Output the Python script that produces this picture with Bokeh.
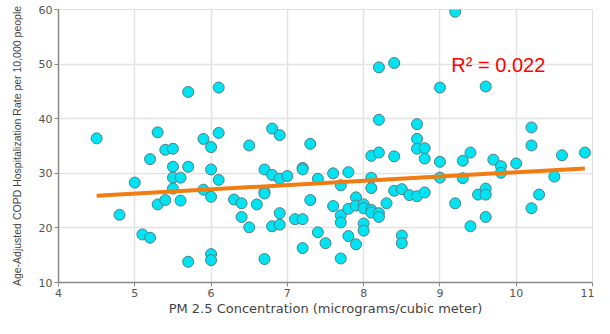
from bokeh.plotting import figure
from bokeh.models import Range1d, FixedTicker, ColumnDataSource
from bokeh.core.properties import value
from bokeh.embed import file_html
from bokeh.resources import INLINE

pm25 = [4.5, 4.8, 5.0, 5.1, 5.2, 5.2, 5.3, 5.3, 5.4, 5.4, 5.5, 5.5, 5.5, 5.5,
        5.6, 5.6, 5.7, 5.7, 5.7, 5.9, 5.9, 6.0, 6.0, 6.0, 6.0, 6.0, 6.1, 6.1,
        6.1, 6.3, 6.4, 6.4, 6.5, 6.5, 6.6, 6.7, 6.7, 6.7, 6.7, 6.8, 6.8, 6.8,
        6.9, 6.9, 6.9, 6.9, 7.0, 7.1, 7.2, 7.2, 7.2, 7.2, 7.3, 7.3, 7.4, 7.4,
        7.5, 7.6, 7.6, 7.7, 7.7, 7.7, 7.7, 7.8, 7.8, 7.8, 7.9, 7.9, 7.9, 8.0,
        8.0, 8.0, 8.0, 8.1, 8.1, 8.1, 8.1, 8.1, 8.2, 8.2, 8.2, 8.2, 8.2, 8.3,
        8.4, 8.4, 8.4, 8.5, 8.5, 8.5, 8.6, 8.7, 8.7, 8.7, 8.7, 8.8, 8.8, 8.8,
        9.0, 9.0, 9.0, 9.2, 9.2, 9.3, 9.3, 9.4, 9.4, 9.5, 9.6, 9.6, 9.6, 9.6,
        9.7, 9.8, 9.8, 10.0, 10.2, 10.2, 10.2, 10.3, 10.5, 10.6, 10.9]
copd_rate = [36.4, 22.4, 28.3, 18.8, 18.2, 32.6, 24.3, 37.5, 25.1, 34.3, 34.5, 31.2, 29.2, 27.2,
             25.0, 29.2, 31.2, 13.8, 44.9, 27.0, 36.3, 34.8, 30.7, 25.7, 15.2, 14.1, 45.7, 37.4,
             28.8, 25.2, 24.5, 22.0, 35.1, 20.1, 24.3, 30.7, 26.6, 26.3, 14.3, 38.2, 29.7, 20.3,
             37.0, 29.0, 22.7, 20.6, 29.5, 21.6, 31.0, 30.7, 21.6, 16.3, 35.4, 25.1, 29.0, 19.2,
             17.2, 30.0, 24.0, 27.8, 22.3, 21.0, 14.4, 30.2, 23.5, 18.5, 25.6, 24.1, 17.0, 24.3,
             23.6, 20.8, 19.5, 33.2, 29.2, 27.3, 23.3, 22.8, 49.4, 39.8, 33.8, 22.7, 22.0, 24.5,
             50.2, 33.1, 26.8, 27.1, 18.6, 17.2, 26.0, 39.0, 36.3, 34.5, 25.8, 34.6, 32.7, 26.5,
             45.7, 32.1, 29.2, 59.6, 24.5, 32.3, 29.1, 33.8, 20.3, 26.1, 45.9, 27.2, 26.1, 22.0,
             32.5, 31.3, 30.1, 31.8, 38.4, 35.1, 23.6, 26.1, 29.4, 33.3, 33.8]

trend_x = [4.5, 10.9]
trend_y = [25.9, 30.9]

x_ticks = [4, 5, 6, 7, 8, 9, 10, 11]
y_ticks = [10, 20, 30, 40, 50, 60]
r2_label = "R\u00b2 = 0.022"

p = figure(width=594, height=318, output_backend="svg", toolbar_location=None,
           x_range=Range1d(4, 11), y_range=Range1d(10, 60),
           min_border_left=58, min_border_right=2, min_border_top=9, min_border_bottom=0)

p.outline_line_color = "#e0e0e0"
p.background_fill_color = "white"

for ax in (p.xaxis[0], p.yaxis[0]):
    ax.axis_line_color = "#888888"
    ax.axis_line_width = 1.5
    ax.major_tick_line_color = "#888888"
    ax.major_tick_out = 4
    ax.major_tick_in = 0
    ax.minor_tick_line_color = None
    ax.major_label_standoff = 2
    ax.major_label_text_font = "DejaVu Sans"
    ax.major_label_text_font_size = "11px"
    ax.major_label_text_color = "#555555"
    ax.axis_label_text_font_style = "normal"
    ax.axis_label_text_color = "#444444"

p.xaxis[0].ticker = FixedTicker(ticks=x_ticks)
p.yaxis[0].ticker = FixedTicker(ticks=y_ticks)
p.xaxis[0].axis_label = "PM 2.5 Concentration (micrograms/cubic meter)"
p.xaxis[0].axis_label_text_font = "DejaVu Sans"
p.xaxis[0].axis_label_text_font_size = "13px"
p.xaxis[0].axis_label_standoff = 1
p.yaxis[0].axis_label = "Age-Adjusted COPD Hospitalization Rate per 10,000 people"
p.yaxis[0].axis_label_text_font = "Liberation Sans"
p.yaxis[0].axis_label_text_font_size = "10.5px"
p.yaxis[0].axis_label_standoff = 13

p.xgrid.grid_line_color = "#e3e3e3"
p.ygrid.grid_line_color = "#e3e3e3"
p.xgrid.grid_line_width = 1.5
p.ygrid.grid_line_width = 1.5

src = ColumnDataSource(dict(x=pm25, y=copd_rate))
p.scatter("x", "y", source=src, size=11, fill_color="#00e3f2",
          line_color="#4f7f88", line_width=1)

p.line(trend_x, trend_y, line_color="#f07c12", line_width=4)

p.text(x=[9.15], y=[49.8], text=[r2_label], text_color="#ff0000",
       text_font=value("Liberation Sans"), text_font_size="20px",
       text_baseline="alphabetic", text_align="left")

open("out.html", "w").write(file_html(p, INLINE))
